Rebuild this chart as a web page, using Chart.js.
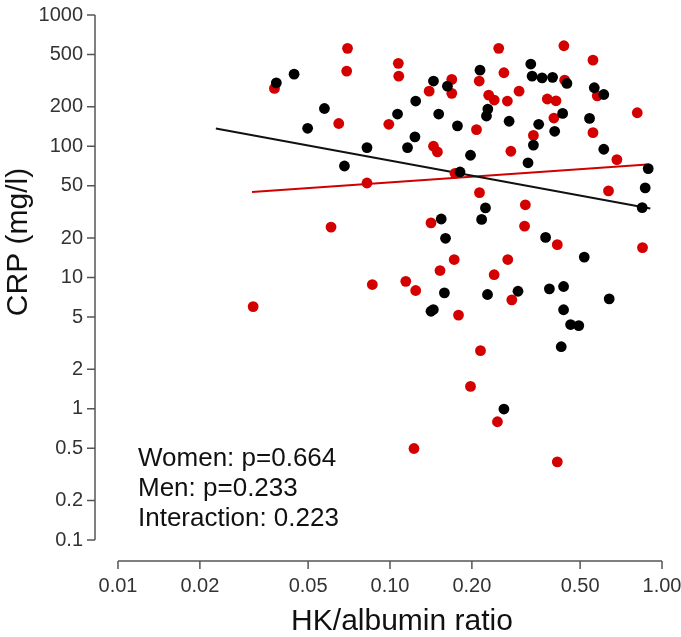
<!DOCTYPE html>
<html>
<head>
<meta charset="utf-8">
<script src="https://cdn.jsdelivr.net/npm/chart.js@4.4.1/dist/chart.umd.min.js"></script>
<style>
  html, body { margin: 0; padding: 0; background: #fff; }
</style>
</head>
<body>
<canvas id="crpChart" width="681" height="637"></canvas>
<script>
// women (red)
const womenRatio = [0.0698, 0.0693, 0.0376, 0.1073, 0.1077, 0.0648, 0.099, 0.1393, 0.1687, 0.1687,
  0.2128, 0.251, 0.2623, 0.2306, 0.2417, 0.2701, 0.2982, 0.4358, 0.4388, 0.3787,
  0.4076, 0.4004, 0.3367, 0.5575, 0.5781, 0.5575, 0.8112, 0.6826, 0.6358, 0.8478,
  0.208, 0.1445, 0.1494, 0.2782, 0.0823, 0.1734, 0.2133, 0.3145, 0.3124, 0.1415,
  0.0607, 0.4122, 0.1722, 0.271, 0.1527, 0.2415, 0.0861, 0.1143, 0.1243, 0.2804,
  0.0314, 0.1786, 0.2151, 0.1977, 0.2483, 0.1225, 0.4122];
const womenCrp = [557, 374, 276, 428, 342, 149, 147, 263, 323, 253,
  314, 557, 363, 245, 225, 221, 263, 583, 319, 229,
  222, 164, 121, 453, 242, 127, 180, 79.1, 45.7, 16.9,
  134, 100, 90.5, 91.6, 52.5, 62.2, 44.3, 35.8, 24.6, 26.1,
  24.2, 17.8, 13.7, 13.7, 11.3, 10.5, 8.84, 9.35, 7.96, 6.76,
  6.0, 5.17, 2.77, 1.48, 0.796, 0.498, 0.394];

// men (black)
const menRatio = [0.0382, 0.0444, 0.0574, 0.0498, 0.0823, 0.068, 0.1066, 0.1243, 0.1235, 0.116,
  0.1445, 0.1626, 0.151, 0.177, 0.2142, 0.2289, 0.2263, 0.1977, 0.1809, 0.2741,
  0.3293, 0.333, 0.3623, 0.396, 0.4471, 0.4312, 0.3521, 0.4031, 0.3367, 0.3217,
  0.5415, 0.5637, 0.6109, 0.6109, 0.8899, 0.8674, 0.8455, 0.2244, 0.2172, 0.1543,
  0.16, 0.3733, 0.5178, 0.1585, 0.2283, 0.2955, 0.3855, 0.4347, 0.6396, 0.1415,
  0.1443, 0.4347, 0.4613, 0.4943, 0.4261, 0.2623];
const menCrp = [304, 354, 194, 137, 97.7, 70.7, 176, 221, 118, 97.7,
  314, 287, 176, 143, 380, 192, 170, 85.4, 63.7, 155,
  423, 342, 332, 335, 301, 178, 147, 130, 102, 74.8,
  163, 279, 248, 94.9, 67.6, 48.2, 34.1, 33.9, 27.7, 27.9,
  19.9, 20.2, 14.3, 7.64, 7.42, 7.86, 8.2, 8.54, 6.88, 5.53,
  5.70, 5.68, 4.38, 4.30, 2.97, 0.995];

// regression lines (end points)
const womenFitRatio = [0.0311, 0.883];
const womenFitCrp = [44.8, 72.5];
const menFitRatio = [0.0229, 0.906];
const menFitCrp = [136.5, 33.5];

const xTicks = [0.01, 0.02, 0.05, 0.1, 0.2, 0.5, 1];
const xTickLabels = ["0.01", "0.02", "0.05", "0.10", "0.20", "0.50", "1.00"];
const yTicks = [0.1, 0.2, 0.5, 1, 2, 5, 10, 20, 50, 100, 200, 500, 1000];
const yTickLabels = ["0.1", "0.2", "0.5", "1", "2", "5", "10", "20", "50", "100", "200", "500", "1000"];
const statLines = ["Women: p=0.664", "Men: p=0.233", "Interaction: 0.223"];
const xTitle = "HK/albumin ratio";
const yTitle = "CRP (mg/l)";

const toPoints = (xs, ys) => xs.map((v, i) => ({ x: v, y: ys[i] }));
const FONT = "'Liberation Sans', Arial, sans-serif";

// R-style detached axes, tick labels, titles and p-values
const rAxes = {
  id: "rAxes",
  afterDraw(chart) {
    const { ctx, chartArea, scales } = chart;
    const x = scales.x, y = scales.y;
    const ax = chartArea.left - 23;
    const ay = chartArea.bottom + 21;
    ctx.save();
    ctx.strokeStyle = "#555";
    ctx.lineWidth = 1.5;
    ctx.beginPath();
    ctx.moveTo(ax, y.getPixelForValue(yTicks[0]));
    ctx.lineTo(ax, y.getPixelForValue(yTicks[yTicks.length - 1]));
    yTicks.forEach(v => {
      const py = y.getPixelForValue(v);
      ctx.moveTo(ax, py);
      ctx.lineTo(ax - 8, py);
    });
    ctx.moveTo(x.getPixelForValue(xTicks[0]), ay);
    ctx.lineTo(x.getPixelForValue(xTicks[xTicks.length - 1]), ay);
    xTicks.forEach(v => {
      const px = x.getPixelForValue(v);
      ctx.moveTo(px, ay);
      ctx.lineTo(px, ay + 8);
    });
    ctx.stroke();

    // tick labels
    ctx.fillStyle = "#333";
    ctx.font = "20px " + FONT;
    ctx.textAlign = "right";
    ctx.textBaseline = "middle";
    yTicks.forEach((v, i) => ctx.fillText(yTickLabels[i], ax - 12, y.getPixelForValue(v)));
    ctx.textAlign = "center";
    xTicks.forEach((v, i) => ctx.fillText(xTickLabels[i], x.getPixelForValue(v), ay + 25));

    // axis titles
    ctx.fillStyle = "#111";
    ctx.font = "30px " + FONT;
    ctx.textAlign = "center";
    ctx.textBaseline = "alphabetic";
    ctx.fillText(xTitle, 402, 630);
    ctx.save();
    ctx.translate(27, 242);
    ctx.rotate(-Math.PI / 2);
    ctx.fillText(yTitle, 0, 0);
    ctx.restore();

    ctx.font = "26px " + FONT;
    ctx.textAlign = "left";
    statLines.forEach((t, i) => {
      ctx.fillText(t, chartArea.left + 20, 466 + i * 30);
    });
    ctx.restore();
  }
};

const chart = new Chart(document.getElementById("crpChart"), {
  type: "scatter",
  data: {
    datasets: [
      {
        label: "Men",
        data: toPoints(menRatio, menCrp),
        backgroundColor: "#000",
        borderWidth: 0,
        pointRadius: 5.4,
        order: 0,
      },
      {
        label: "Women",
        data: toPoints(womenRatio, womenCrp),
        backgroundColor: "#d40000",
        borderWidth: 0,
        pointRadius: 5.4,
        order: 1,
      },
      {
        type: "line",
        label: "Men fit",
        data: toPoints(menFitRatio, menFitCrp),
        borderColor: "#111",
        borderWidth: 2,
        pointRadius: 0,
        order: 2,
      },
      {
        type: "line",
        label: "Women fit",
        data: toPoints(womenFitRatio, womenFitCrp),
        borderColor: "#d00000",
        borderWidth: 2,
        pointRadius: 0,
        order: 2,
      },
    ],
  },
  options: {
    responsive: false,
    animation: false,
    layout: { padding: { top: 15, right: 19, left: 0, bottom: 0 } },
    plugins: {
      legend: { display: false },
      tooltip: { enabled: false },
    },
    scales: {
      x: {
        type: "logarithmic",
        min: 0.01,
        max: 1,
        afterBuildTicks: s => { s.ticks = xTicks.map(v => ({ value: v })); },
        afterFit: s => { s.height = 97; },
        grid: { display: false, drawTicks: false },
        border: { display: false },
        ticks: { display: false },
      },
      y: {
        type: "logarithmic",
        min: 0.1,
        max: 1000,
        afterBuildTicks: s => { s.ticks = yTicks.map(v => ({ value: v })); },
        afterFit: s => { s.width = 118; },
        grid: { display: false, drawTicks: false },
        border: { display: false },
        ticks: { display: false },
      },
    },
  },
  plugins: [rAxes],
});
</script>
</body>
</html>
